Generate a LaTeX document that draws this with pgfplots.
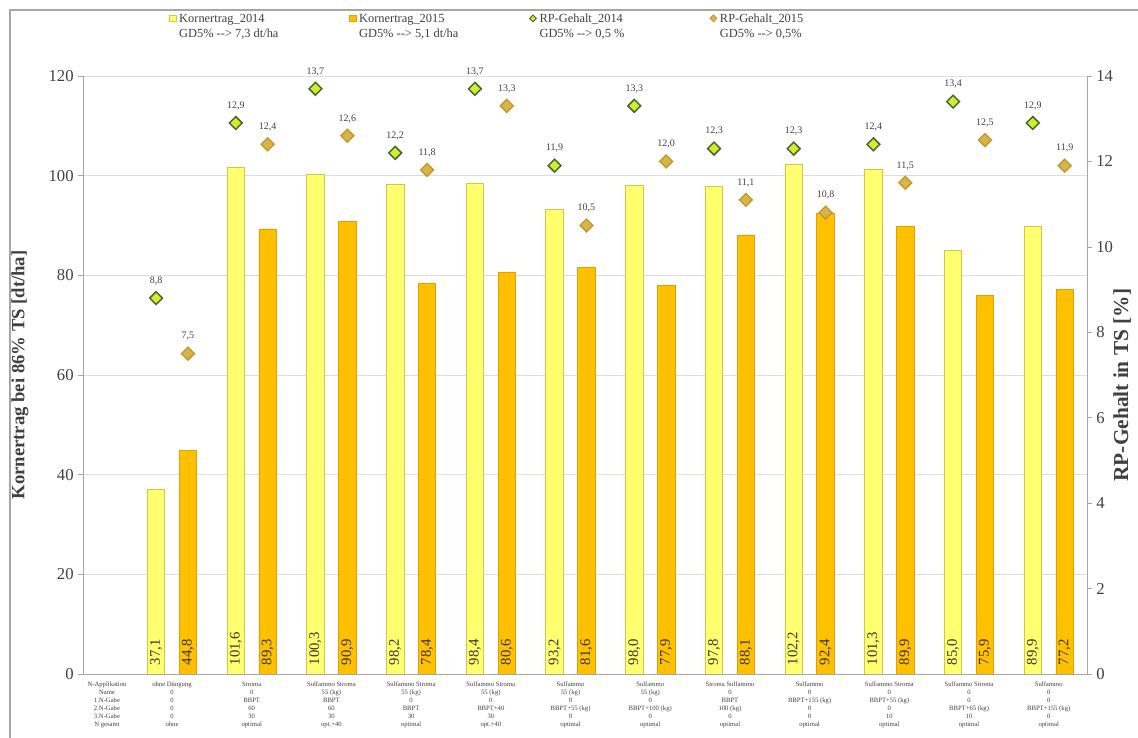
\documentclass[border=0pt]{standalone}
\usepackage{fontspec}
\setmainfont{Liberation Serif}
\usepackage{pgfplots}
\pgfplotsset{compat=1.18}
\usepackage{pgfplotstable}

\definecolor{barA}{HTML}{FFFF70}
\definecolor{barAe}{HTML}{CACA45}
\definecolor{barB}{HTML}{FFC000}
\definecolor{barBe}{HTML}{E0A000}
\definecolor{diaA}{HTML}{CCEE33}
\definecolor{diaAe}{HTML}{4F6228}
\definecolor{diaB}{HTML}{D9B44A}
\definecolor{diaBe}{HTML}{BF9B30}
\definecolor{gridc}{HTML}{DDDDDD}
\definecolor{axc}{HTML}{A6A6A6}
\definecolor{txt}{HTML}{404040}

\pgfplotstableread{
x k14 k15 rp14 rp15
1 37.1 44.8 8.8 7.5
2 101.6 89.3 12.9 12.4
3 100.3 90.9 13.7 12.6
4 98.2 78.4 12.2 11.8
5 98.4 80.6 13.7 13.3
6 93.2 81.6 11.9 10.5
7 98.0 77.9 13.3 12.0
8 97.8 88.1 12.3 11.1
9 102.2 92.4 12.3 10.8
10 101.3 89.9 12.4 11.5
11 85.0 75.9 13.4 12.5
12 89.9 77.2 12.9 11.9
}\data

\pgfplotsset{
  base/.style={
    scale only axis, width=753pt, height=448.5pt,
    xmin=-0.117, xmax=12.48,
    axis line style={axc},
    tick align=outside, major tick length=3.5pt,
    every tick/.style={axc},
    /pgf/number format/assume math mode=true,
    yticklabel style={font=\fontsize{12.5}{14}\selectfont, text=txt},
  },
  barlab/.style={
    nodes near coords, point meta=explicit,
    nodes near coords style={rotate=90, anchor=west, inner sep=6.5pt,
      font=\fontsize{11}{12}\selectfont, text=black!80,
      /pgf/number format/fixed, /pgf/number format/fixed zerofill,
      /pgf/number format/precision=1, /pgf/number format/use comma,
      /pgf/number format/assume math mode=true},
  },
  rplab/.style={
    nodes near coords, point meta=explicit,
    nodes near coords style={anchor=south, yshift=6pt,
      font=\fontsize{7.5}{9}\selectfont, text=txt,
      /pgf/number format/fixed, /pgf/number format/fixed zerofill,
      /pgf/number format/precision=1, /pgf/number format/use comma,
      /pgf/number format/assume math mode=true},
  },
  diaAleg/.style={legend image code/.code={\draw[fill=diaA, draw=diaAe, line width=0.7pt] (0.02cm,0.11cm) -- (0.11cm,0.2cm) -- (0.2cm,0.11cm) -- (0.11cm,0.02cm) -- cycle;}},
  diaBleg/.style={legend image code/.code={\draw[fill=diaB, draw=diaBe, line width=0.7pt] (0.02cm,0.11cm) -- (0.11cm,0.2cm) -- (0.2cm,0.11cm) -- (0.11cm,0.02cm) -- cycle;}},
  barAleg/.style={legend image code/.code={\draw[fill=barA, draw=barAe, line width=0.6pt] (0.02cm,0.03cm) rectangle (0.19cm,0.2cm);}},
  barBleg/.style={legend image code/.code={\draw[fill=barB, draw=barBe, line width=0.6pt] (0.02cm,0.03cm) rectangle (0.19cm,0.2cm);}},
}

\begin{document}
\begin{tikzpicture}
\useasboundingbox (-62.25pt,-48pt) rectangle (791.25pt,505.5pt);
\draw[axc, line width=1pt] (-54.75pt,-50pt) -- (-54.75pt,498pt) -- (795pt,498pt);

\begin{axis}[base,
  ymin=0, ymax=120, ytick={0,20,...,120},
  axis x line*=bottom, axis y line*=left,
  ymajorgrids, grid style={gridc},
  xtick={0.184,1,2,3,4,5,6,7,8,9,10,11,12},
  xtick style={draw=none},
  xticklabels={
    {N-Applikation\\Name\\1.N-Gabe\\2.N-Gabe\\3.N-Gabe\\N gesamt},
    {ohne Düngung\\0\\0\\0\\0\\ohne},
    {Stroma\\0\\BBPT\\60\\30\\optimal},
    {Sulfammo Stroma\\55 (kg)\\BBPT\\60\\30\\opt.+40},
    {Sulfammo Stroma\\55 (kg)\\0\\BBPT\\30\\optimal},
    {Sulfammo Stroma\\55 (kg)\\0\\BBPT+40\\30\\opt.+40},
    {Sulfammo\\55 (kg)\\0\\BBPT+55 (kg)\\0\\optimal},
    {Sulfammo\\55 (kg)\\0\\BBPT+100 (kg)\\0\\optimal},
    {Stroma Sulfammo\\0\\BBPT\\100 (kg)\\0\\optimal},
    {Sulfammo\\0\\BBPT+155 (kg)\\0\\0\\optimal},
    {Sulfammo Stroma\\0\\BBPT+55 (kg)\\0\\10\\optimal},
    {Sulfammo Stroma\\0\\0\\BBPT+65 (kg)\\10\\optimal},
    {Sulfammo\\0\\0\\BBPT+155 (kg)\\0\\optimal}},
  xticklabel style={font=\fontsize{5}{6}\selectfont, align=center, text=txt, yshift=1pt},
  ylabel={\bfseries Kornertrag bei 86\% TS [dt/ha]},
  ylabel style={at={(axis description cs:-0.0627,0.5)}, anchor=center,
    font=\fontsize{14}{16}\selectfont, text=txt},
]
\addplot[ybar, bar width=0.22, bar shift=-0.2, fill=barA, draw=barAe, line width=0.6pt]
  table[x=x, y=k14]{\data};
\addplot[ybar, bar width=0.22, bar shift=0.2, fill=barB, draw=barBe, line width=0.6pt]
  table[x=x, y=k15]{\data};
\addplot[draw=none, mark=none, forget plot, barlab]
  table[x expr=\thisrow{x}-0.2, y expr=0, meta=k14]{\data};
\addplot[draw=none, mark=none, forget plot, barlab]
  table[x expr=\thisrow{x}+0.2, y expr=0, meta=k15]{\data};
\end{axis}

\begin{axis}[base,
  ymin=0, ymax=14, ytick={0,2,...,14},
  axis x line=none, axis y line*=right,
  ylabel={\bfseries RP-Gehalt in TS [\%]},
  ylabel style={at={(axis description cs:1.035,0.483)}, anchor=center,
    font=\fontsize{16}{18}\selectfont, text=txt},
  legend columns=4,
  legend style={at={(axis description cs:0.0857,1.1087)}, anchor=north west,
    draw=none, fill=none, inner sep=0pt, row sep=0pt,
    font=\fontsize{9.3}{11.5}\selectfont, text=txt,
    cells={anchor=base west},
    /tikz/every even column/.append style={column sep=0pt}},
]
\addlegendimage{barAleg}
\addlegendentry{\parbox[t]{125.5pt}{Kornertrag\_2014\\GD5\% -{}-{}> 7,3 dt/ha}}
\addlegendimage{barBleg}
\addlegendentry{\parbox[t]{125.5pt}{Kornertrag\_2015\\GD5\% -{}-{}> 5,1 dt/ha}}
\addplot[only marks, mark=square*, mark size=3.4pt,
  mark options={rotate=45, fill=diaA, draw=diaAe, line width=1.1pt},
  diaAleg, rplab]
  table[x expr=\thisrow{x}-0.2, y=rp14, meta=rp14]{\data};
\addlegendentry{\parbox[t]{125.5pt}{RP-Gehalt\_2014\\GD5\% -{}-{}> 0,5 \%}}
\addplot[only marks, mark=square*, mark size=3.4pt,
  mark options={rotate=45, fill=diaB, draw=diaBe, line width=1.1pt},
  diaBleg, rplab]
  table[x expr=\thisrow{x}+0.2, y=rp15, meta=rp15]{\data};
\addlegendentry{\parbox[t]{125.5pt}{RP-Gehalt\_2015\\GD5\% -{}-{}> 0,5\%}}
\end{axis}
\end{tikzpicture}
\end{document}
